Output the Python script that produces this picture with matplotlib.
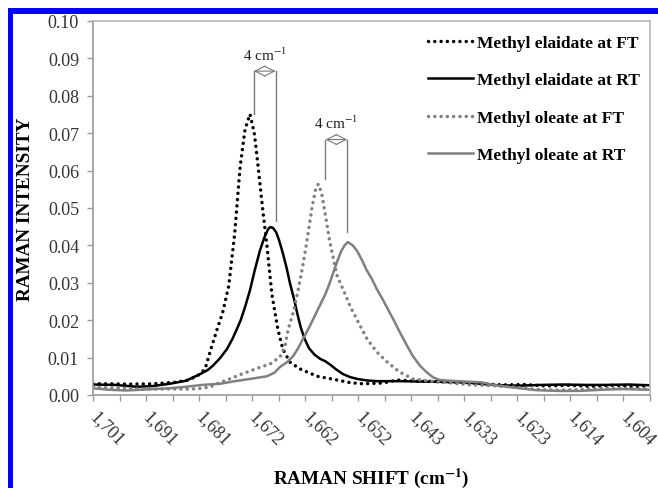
import matplotlib
matplotlib.use("Agg")
import matplotlib.pyplot as plt
from matplotlib.patches import Rectangle

plt.rcParams["font.family"] = ["Liberation Serif", "DejaVu Serif"]
plt.rcParams["mathtext.fontset"] = "stix"

# ---- spectra: Raman shift (cm-1) and intensity ----
elaidate_ft_x = [1701, 1698, 1694, 1690, 1686, 1683.5, 1681.5, 1680.5, 1679.6, 1678.3,
                 1677.3, 1676.2, 1675.1, 1674.1, 1673.2, 1672.3, 1671.5, 1670.8, 1670.0,
                 1669.2, 1668.3, 1667.2, 1666.3, 1665.0, 1663.2, 1660.0, 1657.0, 1654.0,
                 1651.6, 1648.0, 1645.4, 1642.0, 1638.0, 1634.0, 1630.0, 1626.0, 1622.0,
                 1618.0, 1614.0, 1610.0, 1606.0, 1602.0, 1599.2]
elaidate_ft_y = [0.0030, 0.0030, 0.0029, 0.0030, 0.0034, 0.0040, 0.0055, 0.0070, 0.0115, 0.0176,
                 0.0220, 0.0290, 0.0430, 0.0610, 0.0710, 0.0751, 0.0700, 0.0610, 0.0500,
                 0.0400, 0.0270, 0.0176, 0.0123, 0.0088, 0.0070, 0.0050, 0.0042, 0.0033,
                 0.0030, 0.0032, 0.0040, 0.0037, 0.0036, 0.0034, 0.0030, 0.0027, 0.0028,
                 0.0024, 0.0026, 0.0023, 0.0026, 0.0023, 0.0025]

elaidate_rt_x = [1701, 1697, 1693, 1690, 1687, 1684, 1681.4, 1680.0, 1679.1, 1677.8,
                 1676.5, 1675.5, 1674.7, 1674.0, 1673.2, 1672.3, 1671.4, 1670.5, 1669.7,
                 1669.0, 1668.6, 1668.1, 1667.5, 1667.0, 1666.3, 1665.6, 1665.0, 1664.3,
                 1663.6, 1663.0, 1662.3, 1661.5, 1660.5, 1659.5, 1658.5, 1657.7, 1656.5,
                 1655.3, 1654.0, 1652.7, 1651.0, 1649.0, 1645.0, 1641.0, 1637.0, 1633.0,
                 1630.0, 1627.0, 1623.0, 1619.0, 1615.0, 1611.0, 1607.0, 1603.0, 1599.2]
elaidate_rt_y = [0.0028, 0.0027, 0.0022, 0.0024, 0.0030, 0.0038, 0.0056, 0.0067, 0.0078, 0.0098,
                 0.0123, 0.0150, 0.0176, 0.0200, 0.0235, 0.0280, 0.0335, 0.0385, 0.0420,
                 0.0443, 0.0449, 0.0447, 0.0435, 0.0415, 0.0380, 0.0340, 0.0300, 0.0260,
                 0.0215, 0.0180, 0.0150, 0.0125, 0.0108, 0.0097, 0.0090, 0.0082, 0.0068,
                 0.0056, 0.0048, 0.0043, 0.0039, 0.0037, 0.0037, 0.0036, 0.0035, 0.0034,
                 0.0030, 0.0026, 0.0025, 0.0027, 0.0028, 0.0027, 0.0027, 0.0028, 0.0026]

oleate_ft_x = [1701, 1697, 1692, 1687, 1683, 1681, 1679.5, 1678, 1676, 1674,
               1672.3, 1670.5, 1668.6, 1666.8, 1665.9, 1665.3, 1664.4, 1663.5, 1662.7,
               1661.9, 1661.0, 1660.3, 1659.8, 1659.2, 1658.5, 1657.7, 1656.4, 1654.9,
               1654.0, 1652.5, 1650.9, 1649.1, 1647.2, 1644.9, 1642.5, 1639.5, 1636.0,
               1632.0, 1628.0, 1624.0, 1620.0, 1616.0, 1612.0, 1608.0, 1604.0, 1599.2]
oleate_ft_y = [0.0021, 0.0019, 0.0016, 0.0016, 0.0016, 0.0018, 0.0022, 0.0032, 0.0043, 0.0055,
               0.0064, 0.0074, 0.0083, 0.0102, 0.0130, 0.0176, 0.0220, 0.0280, 0.0340,
               0.0410, 0.0497, 0.0550, 0.0564, 0.0540, 0.0480, 0.0410, 0.0320, 0.0270,
               0.0238, 0.0195, 0.0150, 0.0115, 0.0088, 0.0061, 0.0043, 0.0037, 0.0033,
               0.0027, 0.0025, 0.0021, 0.0015, 0.0013, 0.0014, 0.0018, 0.0017, 0.0016]

oleate_rt_x = [1701, 1698, 1695, 1691, 1687, 1684, 1681, 1677.8, 1675, 1672.3,
               1669.2, 1667.8, 1666.8, 1665.5, 1664.4, 1663.5, 1662.6, 1661.5, 1660.5,
               1659.5, 1658.5, 1657.7, 1657.0, 1656.4, 1655.6, 1655.0, 1654.4, 1653.5,
               1652.7, 1651.8, 1651.0, 1650.0, 1649.1, 1648.0, 1647.1, 1646.0, 1644.9,
               1643.7, 1642.5, 1641.2, 1640.0, 1638.8, 1637.6, 1634.4, 1630.0, 1627.0,
               1623.0, 1620.0, 1616.0, 1612.0, 1608.0, 1604.0, 1599.2]
oleate_rt_y = [0.0018, 0.0014, 0.0012, 0.0015, 0.0018, 0.0022, 0.0027, 0.0030, 0.0037, 0.0043,
               0.0050, 0.0060, 0.0075, 0.0088, 0.0104, 0.0125, 0.0150, 0.0180, 0.0210,
               0.0240, 0.0270, 0.0300, 0.0330, 0.0355, 0.0385, 0.0400, 0.0409, 0.0400,
               0.0385, 0.0360, 0.0335, 0.0310, 0.0283, 0.0255, 0.0230, 0.0200, 0.0168,
               0.0135, 0.0104, 0.0078, 0.0061, 0.0047, 0.0040, 0.0037, 0.0034, 0.0025,
               0.0018, 0.0013, 0.0011, 0.0011, 0.0014, 0.0016, 0.0014]

series_labels = ["Methyl elaidate at FT", "Methyl elaidate at RT",
                 "Methyl oleate at FT", "Methyl oleate at RT"]

# category-style axis labels, every second tick
tick_labels = ["1,701", "1,691", "1,681", "1,672", "1,662", "1,652",
               "1,643", "1,633", "1,623", "1,614", "1,604"]
x_start = 1701.0
label_step = 9.7

# peak-shift markers: (left x, right x, top y, left bottom, right bottom)
shift_marks = [(1671.6, 1667.6, 0.0866, 0.0751, 0.0465),
               (1658.5, 1654.5, 0.0683, 0.0578, 0.0436)]
shift_text = "4 cm$^{-1}$"

W, H = 658, 489
fig = plt.figure(figsize=(W / 100, H / 100), dpi=100)
L, R, T, B = 93, 650, 22, 396
ax = fig.add_axes([L / W, 1 - B / H, (R - L) / W, (B - T) / H])

black = "#000000"
gray = "#808080"
dot = (0, (0.01, 1.8))

ax.plot(elaidate_ft_x, elaidate_ft_y, color=black, lw=2.5, linestyle=dot,
        dash_capstyle="round", label=series_labels[0])
ax.plot(elaidate_rt_x, elaidate_rt_y, color=black, lw=1.8, label=series_labels[1])
ax.plot(oleate_ft_x, oleate_ft_y, color=gray, lw=2.5, linestyle=dot,
        dash_capstyle="round", label=series_labels[2])
ax.plot(oleate_rt_x, oleate_rt_y, color=gray, lw=1.8, label=series_labels[3])

mark_color = "#7a7a7a"
for lx, rx, top, lb, rb in shift_marks:
    ax.plot([lx, lx], [lb, top], color=mark_color, lw=1.0)
    ax.plot([rx, rx], [rb, top], color=mark_color, lw=1.0)
    ax.annotate("", xy=(rx, top), xytext=(lx, top),
                arrowprops=dict(arrowstyle="<->,head_length=0.72,head_width=0.36",
                                color=mark_color, lw=0.8, mutation_scale=10,
                                shrinkA=0, shrinkB=0))
    ax.text((lx + rx) / 2, top + 0.0022, shift_text, ha="center", va="bottom",
            fontsize=11, color="#222222")

n_minor = 21
x_end = x_start - n_minor * label_step / 2
ax.set_xlim(x_start, x_end)
ax.set_ylim(0, 0.10)

major = [x_start - k * label_step for k in range(len(tick_labels))]
minor = [x_start - k * label_step / 2 for k in range(n_minor + 1)]
ax.set_xticks(major)
ax.set_xticklabels(tick_labels, rotation=-45, ha="left", va="center",
                   rotation_mode="anchor")
ax.set_xticks(minor, minor=True)
ax.set_yticks([i / 100 for i in range(11)])
ax.set_yticklabels([f"{i / 100:.2f}" for i in range(11)])

ax.tick_params(axis="both", which="both", direction="out", length=4.5,
               width=1.0, color="#9a9a9a", labelsize=13, labelcolor="#333333")
ax.tick_params(axis="x", which="major", pad=9)
ax.tick_params(axis="y", pad=5.5)

for side in ["left", "bottom"]:
    ax.spines[side].set_color("#9a9a9a")
    ax.spines[side].set_linewidth(1.2)
for side in ["top", "right"]:
    ax.spines[side].set_color("#b5b5b5")
    ax.spines[side].set_linewidth(1.2)

ax.set_ylabel("RAMAN INTENSITY", fontsize=13.8, fontweight="bold")
ax.yaxis.set_label_coords((34 - L) / (R - L), 0.5)
ax.set_xlabel("RAMAN SHIFT (cm$^{\\mathbf{-1}}$)", fontsize=13.8, fontweight="bold")
ax.xaxis.set_label_coords(0.5, (B - 467) / (B - T))

leg = ax.legend(loc="upper left", bbox_to_anchor=(428 / W, 1 - 36 / H),
                bbox_transform=fig.transFigure, frameon=False,
                prop={"weight": "bold", "size": 12.5}, handlelength=2.6,
                handletextpad=0.22, labelspacing=1.22, borderpad=0,
                borderaxespad=0)

# blue frame along the top and left edges
blue = "#0000ff"
fig.add_artist(Rectangle((8 / W, 0), 5 / W, 1 - 9 / H, transform=fig.transFigure,
                         color=blue, lw=0))
fig.add_artist(Rectangle((8 / W, 1 - 15 / H), 1 - 8 / W, 6 / H,
                         transform=fig.transFigure, color=blue, lw=0))

fig.savefig("out.png", dpi=100)
